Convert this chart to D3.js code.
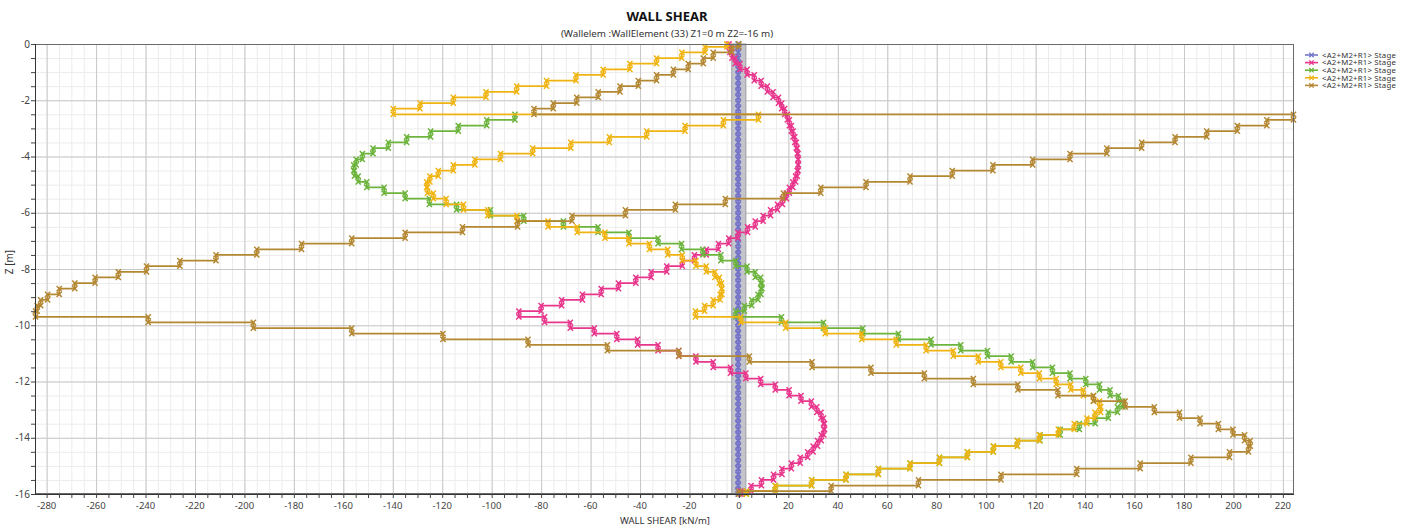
<!DOCTYPE html>
<html><head><meta charset="utf-8">
<script src="https://cdn.jsdelivr.net/npm/d3@7"></script>
<style>
body{margin:0;background:#fff}
svg{display:block}
text{font-family:"Noto Sans","Open Sans",sans-serif}
</style>
</head><body>
<svg id="c" width="1411" height="526"></svg>
<script>
// ---------- DATA ----------
// element boundary depths Z [m] (wall mesh)
const depths = [0,-0.1,-0.3,-0.5,-0.7,-0.9,-1.1,-1.3,-1.5,-1.7,-1.9,-2.1,-2.3,-2.5,-2.7,-2.9,-3.1,-3.3,-3.5,-3.7,-3.9,
 -4.1,-4.3,-4.5,-4.7,-4.9,-5.1,-5.3,-5.5,-5.7,-5.9,-6.1,-6.3,-6.5,-6.7,-6.9,-7.1,-7.3,-7.5,-7.7,-7.9,
 -8.1,-8.3,-8.5,-8.7,-8.9,-9.1,-9.3,-9.5,-9.7,-9.9,-10.1,-10.3,-10.5,-10.7,-10.9,-11.1,-11.3,-11.5,-11.7,-11.9,
 -12.1,-12.3,-12.5,-12.7,-12.9,-13.1,-13.3,-13.5,-13.7,-13.9,-14.1,-14.3,-14.5,-14.7,-14.9,-15.1,-15.3,-15.5,-15.7,-15.9,-16];

// wall shear per element [kN/m], one value per element (81); null = not shown
const stage1 = [-0.3,-0.3,-0.3,-0.3,-0.3,-0.3,-0.3,-0.3,-0.3,-0.3,-0.3,-0.3,-0.3,-0.3,-0.3,-0.3,-0.3,-0.3,-0.3,-0.3,
 -0.3,-0.3,-0.3,-0.3,-0.3,-0.3,-0.3,-0.3,-0.3,-0.3,-0.3,-0.3,-0.3,-0.3,-0.3,-0.3,-0.3,-0.3,-0.3,-0.3,
 -0.3,-0.3,-0.3,-0.3,-0.3,-0.3,-0.3,-0.3,-0.3,-0.3,-0.3,-0.3,-0.3,-0.3,-0.3,-0.3,-0.3,-0.3,-0.3,-0.3,
 -0.3,-0.3,-0.3,-0.3,-0.3,-0.3,-0.3,-0.3,-0.3,-0.3,-0.3,-0.3,-0.3,-0.3,-0.3,-0.3,-0.3,-0.3,-0.3,-0.3,-0.3];

const stage2 = [-4.0,-3.6,-2.8,-1.5,0.4,3.3,6.2,9.0,11.5,13.8,16.0,17.3,18.5,19.6,20.4,21.2,21.9,22.6,23.2,23.6,
 23.9,24.0,23.9,23.6,22.9,21.8,20.4,19.2,17.6,15.6,12.8,9.8,6.6,3.5,-0.4,-4.1,-8.3,-13.2,-18,-22.9,
 -29.2,-35.5,-41.7,-48.7,-55.7,-63.3,-71.7,-80,-89,-78.6,-68.2,-58.5,-49.4,-41,-32.7,-24.3,-17.4,-10.4,-3.4,2.8,
 8.8,14.7,20.3,25.1,29.3,31.5,33.2,34.2,34.6,34.3,33.3,31.8,30,27.8,24.8,21.2,17.4,14,9.1,4.9,0.8];

const stage3 = [null,null,null,null,null,null,null,null,null,null,null,null,null,-90.6,-102,-113.5,-124.7,-134.4,-141.8,-148,
 -152.3,-154.8,-155.8,-155.5,-154,-150.5,-143.5,-135,-125.2,-114.2,-100.5,-87,-71,-57,-44.5,-32.7,-23.2,-14.6,-7.3,-1.3,
 3.3,6.6,8.8,9.3,8.9,7.7,5.2,2.2,-1.3,17.2,34.2,50.1,64.5,77.7,89.7,100.5,110.1,118.8,126.8,133.9,
 140.3,145.8,150.1,153.5,155.3,153.1,149.4,144.1,137.7,129.9,121.8,112.6,102.9,92.4,81.1,69.2,56.4,43.3,29.4,14.7,3];

const stage4 = [-4.9,-13.7,-23.1,-33.3,-44.1,-54.9,-65.9,-77.8,-89.9,-102.3,-115.5,-129,-139.8,7.9,-6.3,-21.8,-37.3,-52.4,-68,-83.4,
 -96.4,-106.8,-115.5,-121.6,-125,-126.3,-126,-123.6,-118.4,-111.4,-101.6,-89.8,-77.2,-65.4,-54.2,-44.5,-36.2,-28.8,-22.9,-17.4,
 -13.2,-9.7,-7.9,-7.0,-6.9,-7.6,-10.4,-13.9,-17.6,0.8,18.9,34.9,49.7,63.6,75.7,86.7,96.8,105.9,114,121.5,
 128.3,134.2,139.3,143.4,145.8,146.3,144,140.7,135.6,129.2,121.5,112.6,102.9,92.4,81.1,69.2,56.4,43.3,29.4,14.7,3];

const stage5 = [0,-2.9,-10.4,-14.4,-20.5,-26.5,-33.3,-40.7,-48.1,-56.9,-65.6,-75.1,-82.9,224.3,213.5,201.6,189.2,176.4,162.9,148.8,
 133.9,118.8,102.7,86.3,69.2,51.4,33.1,18,-5.5,-25.7,-45.9,-67.5,-89.5,-111.8,-135,-156.6,-176.9,-195,-211.5,-226.1,
 -239.6,-251,-260.4,-268.6,-274.9,-279.6,-282.4,-283.8,-284.5,-238.9,-196.4,-156.6,-119.7,-85.3,-53.2,-24.3,4.2,29.6,53.4,75,
 94.8,112.8,129,143.4,156.2,168,178.2,186.5,193.9,199.8,204.5,206.8,206.1,198.4,182.8,162.3,136.6,106,72.6,37.3,0];

const seriesNames = ["<A2+M2+R1> Stage","<A2+M2+R1> Stage","<A2+M2+R1> Stage","<A2+M2+R1> Stage","<A2+M2+R1> Stage"];
const seriesColors = ["#7474c9","#e8368c","#6cb43c","#f0b412","#b48833"];
const xTicks = [-280,-260,-240,-220,-200,-180,-160,-140,-120,-100,-80,-60,-40,-20,0,20,40,60,80,100,120,140,160,180,200,220];
const yTicks = [0,-2,-4,-6,-8,-10,-12,-14,-16];
const wallBand = [-2.9, 2.8];
const titleText = "WALL SHEAR";
const subtitleText = "(Wallelem :WallElement (33) Z1=0 m Z2=-16 m)";
const xLabel = "WALL SHEAR [kN/m]";
const yLabel = "Z [m]";

// ---------- CHART ----------
const W=1411,H=526,L=35,R=1294,T=44,B=494;
const x=d3.scaleLinear().domain([-284.7,224.5]).range([L,R]);
const y=d3.scaleLinear().domain([0,-16]).range([T,B]);
const svg=d3.select('#c');
svg.append('rect').attr('width',W).attr('height',H).attr('fill','#fff');

const grid=svg.append('g');
grid.selectAll('.mx').data(d3.range(-280,225,5)).join('line')
  .attr('x1',d=>x(d)+0.5).attr('x2',d=>x(d)+0.5).attr('y1',T).attr('y2',B)
  .attr('stroke','#ececec').attr('stroke-width',1);
grid.selectAll('.my').data(d3.range(0,-16.01,-0.5)).join('line')
  .attr('y1',d=>y(d)+0.5).attr('y2',d=>y(d)+0.5).attr('x1',L).attr('x2',R)
  .attr('stroke','#ececec').attr('stroke-width',1);
grid.append('g').selectAll('line').data(xTicks).join('line')
  .attr('x1',d=>x(d)+0.5).attr('x2',d=>x(d)+0.5).attr('y1',T).attr('y2',B)
  .attr('stroke','#c8c8c8').attr('stroke-width',1);
grid.append('g').selectAll('line').data(yTicks).join('line')
  .attr('y1',d=>y(d)+0.5).attr('y2',d=>y(d)+0.5).attr('x1',L).attr('x2',R)
  .attr('stroke','#c8c8c8').attr('stroke-width',1);

// wall band
svg.append('rect').attr('x',x(wallBand[0])).attr('y',T)
  .attr('width',x(wallBand[1])-x(wallBand[0])).attr('height',B-T)
  .attr('fill','#c4c4cb').attr('stroke','#9c9ca6').attr('stroke-width',1);

// series
const markerPath='M-2.6,-2.6L2.6,2.6M-2.6,2.6L2.6,-2.6';
const line=d3.line().x(d=>x(d[0])).y(d=>y(d[1]));
const allSeries=[stage1,stage2,stage3,stage4,stage5];
allSeries.forEach((vals,si)=>{
  const pts=[];
  vals.forEach((v,i)=>{ if(v===null) return; pts.push([v,depths[i]]);pts.push([v,depths[i+1]]);});
  const gS=svg.append('g');
  gS.append('path').attr('d',line(pts)).attr('fill','none')
    .attr('stroke',seriesColors[si]).attr('stroke-width',1.8);
  gS.selectAll('path.m').data(pts).join('path').attr('class','m')
    .attr('d',markerPath).attr('transform',d=>`translate(${x(d[0])},${y(d[1])})`)
    .attr('stroke',seriesColors[si]).attr('stroke-width',1.5).attr('fill','none');
});

// frame
svg.append('rect').attr('x',L+0.5).attr('y',T+0.5).attr('width',R-L-1).attr('height',B-T-1)
  .attr('fill','none').attr('stroke','#6a6a6a').attr('stroke-width',1);
svg.append('line').attr('x1',L+0.5).attr('x2',L+0.5).attr('y1',T).attr('y2',B+1).attr('stroke','#333');
svg.append('line').attr('x1',L).attr('x2',R).attr('y1',B+0.5).attr('y2',B+0.5).attr('stroke','#333');

// ticks
svg.append('g').selectAll('line').data(d3.range(-280,225,5)).join('line')
  .attr('x1',d=>x(d)+0.5).attr('x2',d=>x(d)+0.5).attr('y1',B).attr('y2',B+4).attr('stroke','#444');
svg.append('g').selectAll('line').data(d3.range(0,-16.01,-0.5)).join('line')
  .attr('y1',d=>y(d)+0.5).attr('y2',d=>y(d)+0.5).attr('x1',L-4).attr('x2',L).attr('stroke','#444');
svg.append('g').selectAll('text').data(xTicks).join('text')
  .attr('x',d=>x(d)).attr('y',B+15).attr('text-anchor','middle')
  .attr('font-size',9.5).attr('fill','#444').text(d=>d);
svg.append('g').selectAll('text').data(yTicks).join('text')
  .attr('x',L-5).attr('y',d=>y(d)+3.5).attr('text-anchor','end')
  .attr('font-size',10).attr('fill','#444').text(d=>d);

// titles
svg.append('text').attr('x',667).attr('y',21).attr('text-anchor','middle')
  .attr('font-size',13).attr('font-weight','bold').attr('fill','#111').text(titleText);
svg.append('text').attr('x',667).attr('y',37).attr('text-anchor','middle')
  .attr('font-size',9.8).attr('fill','#333').text(subtitleText);
svg.append('text').attr('x',665).attr('y',524).attr('text-anchor','middle')
  .attr('font-size',9.5).attr('fill','#333').text(xLabel);
svg.append('text').attr('transform','translate(13,262) rotate(-90)').attr('text-anchor','middle')
  .attr('font-size',10).attr('fill','#333').text(yLabel);

// legend
const lg=svg.append('g');
seriesNames.forEach((n,i)=>{
  const yy=55+i*7.6;
  lg.append('line').attr('x1',1305).attr('x2',1318).attr('y1',yy).attr('y2',yy)
    .attr('stroke',seriesColors[i]).attr('stroke-width',1.6);
  lg.append('path').attr('d','M-2.2,-2.2L2.2,2.2M-2.2,2.2L2.2,-2.2').attr('transform',`translate(1311.5,${yy})`)
    .attr('stroke',seriesColors[i]).attr('stroke-width',1.3).attr('fill','none');
  lg.append('text').attr('x',1322).attr('y',yy+2.8).attr('font-size',7.8)
    .attr('letter-spacing',0.2).attr('fill','#333').text(n);
});
</script>
</body></html>
